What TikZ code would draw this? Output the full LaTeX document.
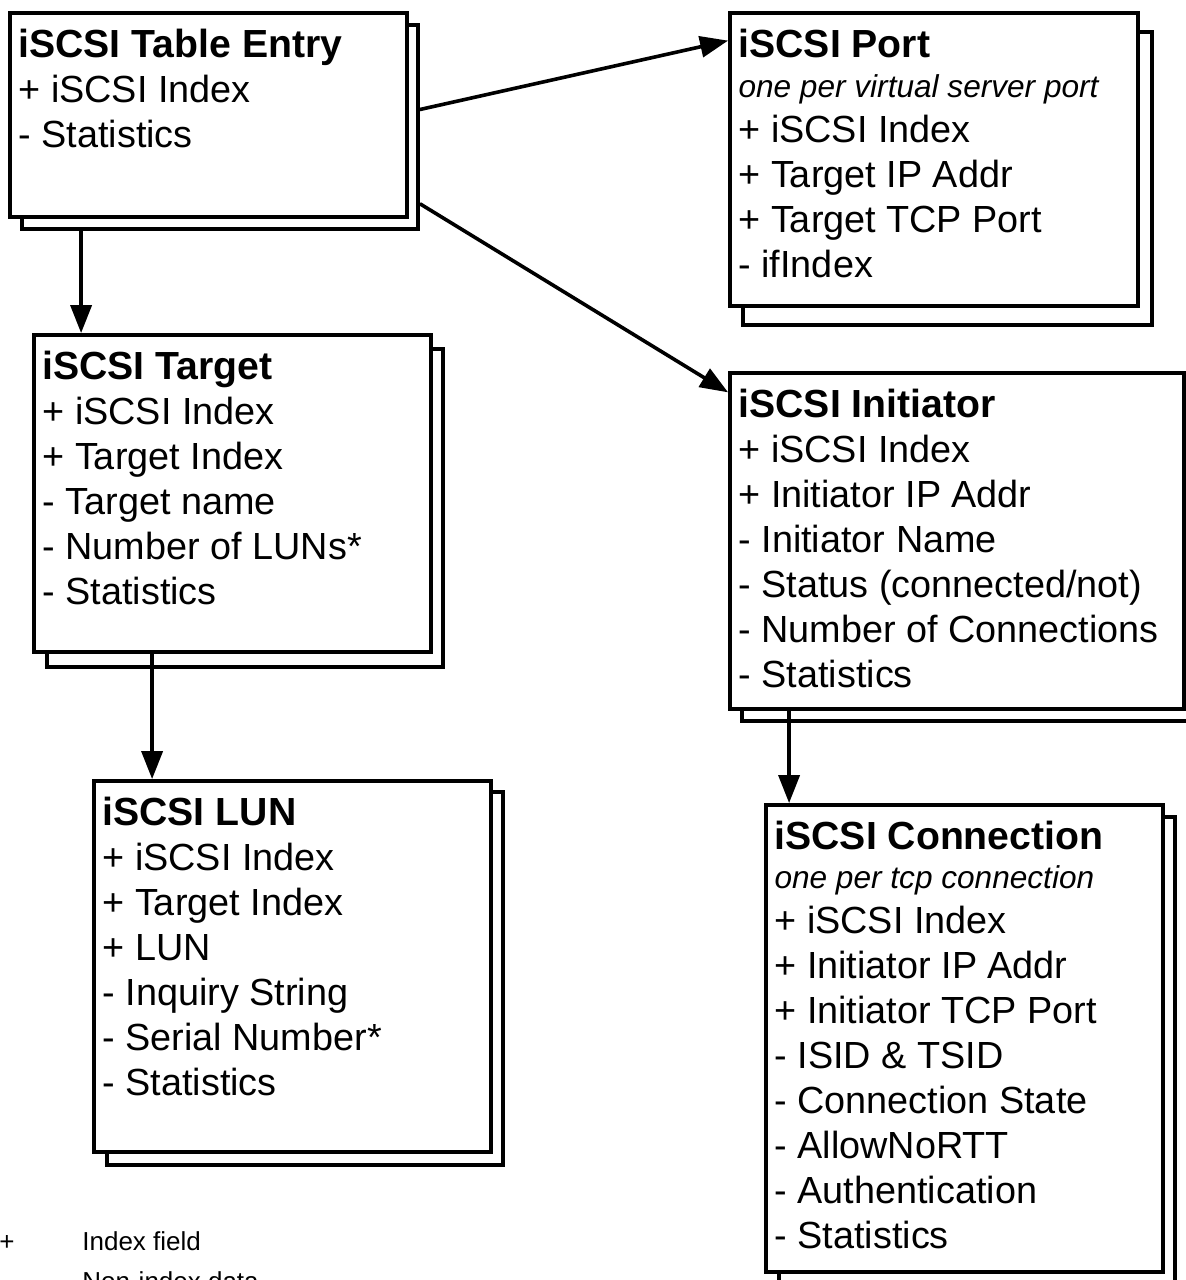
\documentclass[tikz,border=0pt]{standalone}
\usepackage{fontspec}
\setmainfont{Liberation Sans}
\usetikzlibrary{arrows.meta,fit,positioning}
\newcommand\fieldfont{\fontsize{18.9}{22.5}\selectfont}
\newcommand\headfont{\fontsize{19.6}{22.5}\selectfont\bfseries}
\newcommand\notefont{\fontsize{15.8}{22.5}\selectfont\itshape}
\tikzset{
  card/.style={draw,line width=1.9pt,fill=white,inner sep=0pt},
  fields/.style={inner sep=0pt,align=left,font=\fieldfont},
  link/.style={line width=1.8pt,-{Triangle[length=14pt,width=10.5pt]}},
  legend/.style={anchor=base west,inner sep=0pt,font=\fontsize{13}{15}\selectfont}
}
\begin{document}
\begin{tikzpicture}[x=0.5pt,y=-0.5pt]
  \useasboundingbox (0,0) rectangle (1186,1280);
  \clip (0,0) rectangle (1186,1280);
  \fill[white] (0,0) rectangle (1186,1280);
  % stacked boxes, back copy first
  \node[card,fit={(22,25) (418,229)}] (tableB) {};
  \node[card,fit={(10,13) (407,217)}] (table) {};
  \node[card,fit={(743,32) (1152,325)}] (portB) {};
  \node[card,fit={(730,13) (1138,306)}] (port) {};
  \node[card,fit={(47,349) (443,667)}] (targetB) {};
  \node[card,fit={(34,335) (431,652)}] (target) {};
  \node[card,fit={(742,385) (1196,721)}] (initB) {};
  \node[card,fit={(730,373) (1184,709)}] (init) {};
  \node[card,fit={(107,792) (503,1165)}] (lunB) {};
  \node[card,fit={(94,781) (491,1152)}] (lun) {};
  \node[card,fit={(779,817) (1175,1290)}] (connB) {};
  \node[card,fit={(766,805) (1163,1272)}] (conn) {};
  % fields
  \node[fields,below right=9pt and 5pt of table.north west] (tableT)
    {{\headfont iSCSI Table Entry}\\ + iSCSI Index\\ - Statistics};
  \node[fields,below right=9pt and 5pt of port.north west] (portT)
    {{\headfont iSCSI Port}\\[-2.5pt] {\notefont one per virtual server port}\\
     + iSCSI Index\\ + Target IP Addr\\ + Target TCP Port\\ - ifIndex};
  \node[fields,below right=9pt and 5pt of target.north west] (targetT)
    {{\headfont iSCSI Target}\\ + iSCSI Index\\ + Target Index\\ - Target name\\
     - Number of LUNs*\\ - Statistics};
  \node[fields,below right=9pt and 5pt of init.north west] (initT)
    {{\headfont iSCSI Initiator}\\ + iSCSI Index\\ + Initiator IP Addr\\ - Initiator Name\\
     - Status (connected/not)\\ - Number of Connections\\ - Statistics};
  \node[fields,below right=9pt and 5pt of lun.north west] (lunT)
    {{\headfont iSCSI LUN}\\ + iSCSI Index\\ + Target Index\\ + LUN\\ - Inquiry String\\
     - Serial Number*\\ - Statistics};
  \node[fields,below right=9pt and 5pt of conn.north west] (connT)
    {{\headfont iSCSI Connection}\\[-3pt] {\notefont one per tcp connection}\\
     + iSCSI Index\\ + Initiator IP Addr\\ + Initiator TCP Port\\ - ISID \& TSID\\
     - Connection State\\ - AllowNoRTT\\ - Authentication\\ - Statistics};
  % links
  \draw[link] (tableB.5) -- (port.150);
  \draw[link] (tableB.-21) -- (init.147);
  \coordinate (tableOut) at ([xshift=30.5pt]tableB.south west);
  \draw[link] (tableOut) -- (tableOut |- target.north);
  \coordinate (targetOut) at ([xshift=60pt]target.south west);
  \draw[link] (targetOut) -- (targetOut |- lun.north);
  \coordinate (initOut) at ([xshift=30.5pt]init.south west);
  \draw[link] (initOut) -- (initOut |- conn.north);
  % legend
  \node[legend] (legPlus) at (-1,1250) {+};
  \node[legend] (legIndex) at (82,1250) {Index field};
  \node[legend] (legData) at (82,1290) {Non-index data};
\end{tikzpicture}
\end{document}
